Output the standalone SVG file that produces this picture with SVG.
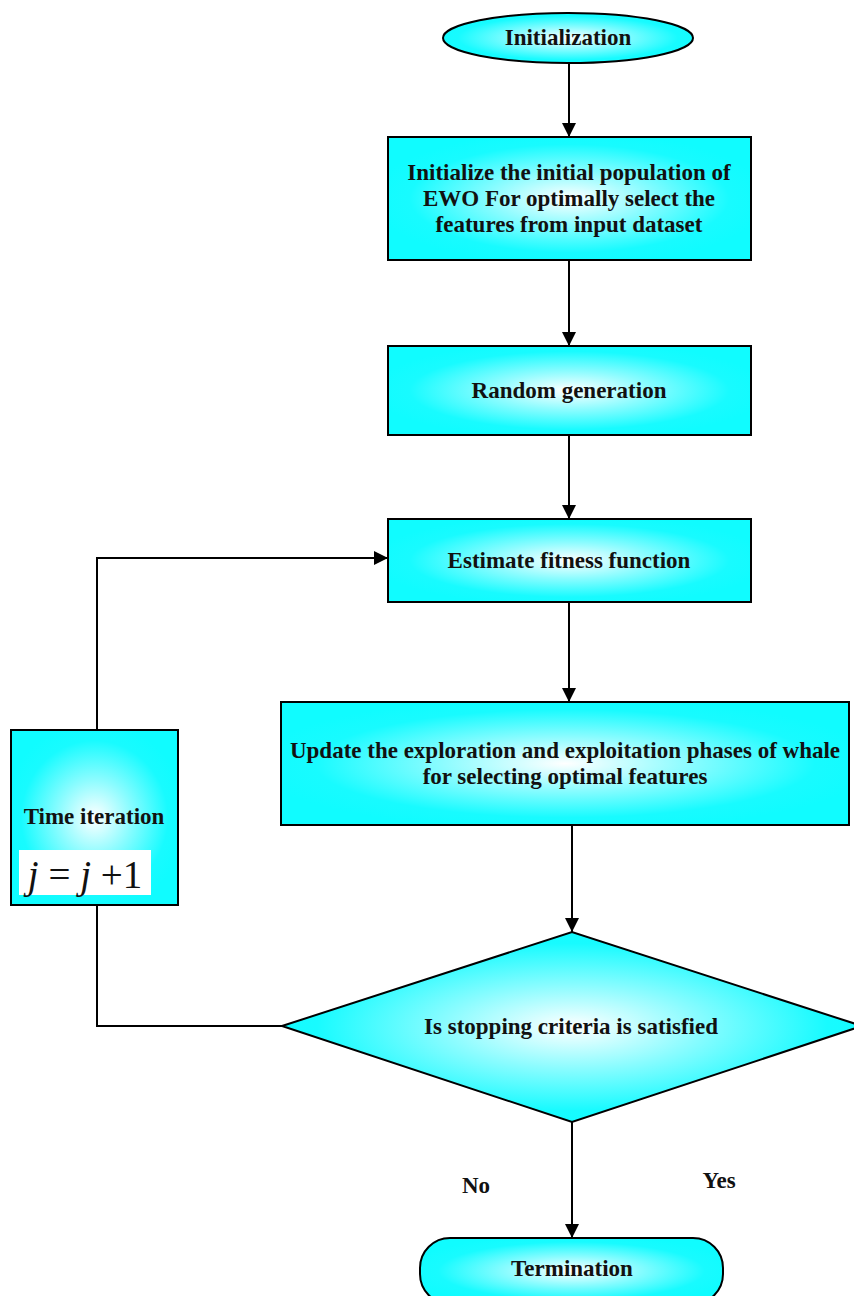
<svg xmlns="http://www.w3.org/2000/svg" width="854" height="1296" viewBox="0 0 854 1296">
<defs>
<radialGradient id="g" cx="50%" cy="50%" r="55%">
<stop offset="0" stop-color="#ffffff"/>
<stop offset="0.4" stop-color="#8afcff"/>
<stop offset="0.8" stop-color="#18fbff"/>
<stop offset="1" stop-color="#10fcff"/>
</radialGradient>
<marker id="a" viewBox="0 0 10 10" refX="10" refY="5" markerWidth="14" markerHeight="14" markerUnits="userSpaceOnUse" orient="auto">
<path d="M0,0 L10,5 L0,10 z" fill="#000"/>
</marker>
</defs>
<style>
.n{fill:url(#g);stroke:#000;stroke-width:2}
.t{font-family:"Liberation Serif",serif;font-weight:bold;font-size:23px;fill:#111;text-anchor:middle}
.c{fill:none;stroke:#000;stroke-width:2}
</style>
<rect width="854" height="1296" fill="#fff"/>
<g id="connectors">
<line class="c" x1="569" y1="63" x2="569" y2="137" marker-end="url(#a)"/>
<line class="c" x1="569" y1="260" x2="569" y2="346" marker-end="url(#a)"/>
<line class="c" x1="569" y1="435" x2="569" y2="519" marker-end="url(#a)"/>
<line class="c" x1="569" y1="602" x2="569" y2="702" marker-end="url(#a)"/>
<line class="c" x1="572" y1="825" x2="572" y2="932" marker-end="url(#a)"/>
<line class="c" x1="572" y1="1122" x2="572" y2="1238" marker-end="url(#a)"/>
<polyline class="c" points="282,1026 97,1026 97,905"/>
<polyline class="c" points="97,730 97,558 388,558" marker-end="url(#a)"/>
<text class="t" x="476" y="1193">No</text>
<text class="t" x="719" y="1188">Yes</text>
</g>
<g id="init">
<ellipse class="n" cx="568" cy="38" rx="125" ry="25"/>
<text class="t" x="568" y="45">Initialization</text>
</g>
<g id="initpop">
<rect class="n" x="388" y="137" width="363" height="123"/>
<text class="t" x="569" y="180">Initialize the initial population of</text>
<text class="t" x="569" y="206">EWO For optimally select the</text>
<text class="t" x="569" y="232">features from input dataset</text>
</g>
<g id="random">
<rect class="n" x="388" y="346" width="363" height="89"/>
<text class="t" x="569" y="398">Random generation</text>
</g>
<g id="fitness">
<rect class="n" x="388" y="519" width="363" height="83"/>
<text class="t" x="569" y="568">Estimate fitness function</text>
</g>
<g id="update">
<rect class="n" x="281" y="702" width="568" height="123"/>
<text class="t" x="565" y="758">Update the exploration and exploitation phases of whale</text>
<text class="t" x="565" y="784">for selecting optimal features</text>
</g>
<g id="decision">
<polygon class="n" points="282,1026 572,932 862,1026 572,1122"/>
<text class="t" x="571" y="1034">Is stopping criteria is satisfied</text>
</g>
<g id="iteration">
<rect class="n" x="11" y="730" width="167" height="175"/>
<text class="t" x="94" y="824">Time iteration</text>
<rect x="19" y="850" width="132" height="45" fill="#fff"/>
<text x="85" y="888" font-family="Liberation Serif,serif" font-size="39" fill="#111" text-anchor="middle"><tspan font-style="italic">j</tspan> = <tspan font-style="italic">j</tspan> +1</text>
</g>
<g id="termination">
<rect class="n" x="420" y="1238" width="303" height="66" rx="30" ry="30"/>
<text class="t" x="572" y="1276">Termination</text>
</g>
</svg>
